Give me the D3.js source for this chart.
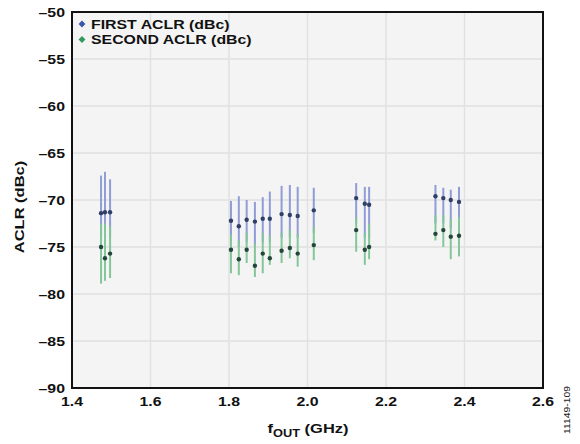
<!DOCTYPE html>
<html><head><meta charset="utf-8">
<script src="https://cdn.jsdelivr.net/npm/d3@7"></script>
<style>html,body{margin:0;padding:0;background:#fff;}svg{display:block;}</style>
</head><body>
<svg id="c" width="580" height="444"></svg>
<script>
// frequencies (GHz)
const freqs = [1.474,1.484,1.497, 1.805,1.825,1.845,1.866,1.886,1.904,1.934,1.955,1.975,2.016, 2.124,2.146,2.157, 2.326,2.346,2.365,2.386];
// first ACLR: mean, upper, lower
const firstMean = [-71.4,-71.3,-71.3, -72.2,-72.8,-72.1,-72.3,-72.0,-72.0,-71.5,-71.6,-71.7,-71.1, -69.8,-70.4,-70.5, -69.6,-69.8,-70.0,-70.2];
const firstHigh = [-67.4,-67.0,-67.8, -70.1,-69.6,-70.0,-70.2,-69.7,-69.1,-68.5,-68.4,-68.6,-68.7, -68.2,-68.6,-68.6, -68.4,-68.7,-68.9,-68.6];
const firstLow  = [-74.0,-74.0,-74.0, -74.5,-75.0,-74.5,-75.0,-74.5,-74.5,-74.0,-74.0,-74.0,-73.5, -72.5,-74.0,-74.0, -72.5,-72.5,-73.0,-73.0];
// second ACLR: mean, upper, lower
const secondMean = [-75.0,-76.2,-75.7, -75.3,-76.3,-75.3,-77.0,-75.7,-76.2,-75.4,-75.1,-75.7,-74.8, -73.2,-75.3,-75.0, -73.6,-73.2,-73.9,-73.8];
const secondHigh = [-72.5,-72.5,-72.8, -73.7,-74.3,-73.5,-74.6,-73.5,-73.8,-73.5,-73.2,-73.6,-72.8, -71.9,-73.5,-72.5, -71.6,-71.6,-72.0,-71.8];
const secondLow  = [-78.9,-78.6,-78.3, -77.8,-78.0,-76.7,-78.2,-77.8,-76.9,-76.7,-76.2,-77.1,-76.4, -75.5,-76.9,-76.3, -74.3,-75.0,-76.3,-76.0];
const yTicks = [-50,-55,-60,-65,-70,-75,-80,-85,-90];
const xTicks = [1.4,1.6,1.8,2.0,2.2,2.4,2.6];
const legendLabels = ["FIRST ACLR (dBc)","SECOND ACLR (dBc)"];

const svg = d3.select("#c");
const L=72, R=543, T=12, B=388;
const SX = 1.22; // horizontal stretch of the reference's lettering
const x = d3.scaleLinear().domain([1.4,2.6]).range([L,R]);
const y = d3.scaleLinear().domain([-90,-50]).range([B,T]);
const fmtMinus = s => s.replace("-","\u2013");
const font = "'Liberation Sans', Arial, sans-serif";

svg.append("rect").attr("x",L).attr("y",T).attr("width",R-L).attr("height",B-T).attr("fill","#f4f4f4");

// grid
svg.append("g").selectAll("line").data(yTicks).join("line")
  .attr("x1",L).attr("x2",R).attr("y1",d=>y(d)).attr("y2",d=>y(d))
  .attr("stroke","#e1e1e1").attr("stroke-width",1.5);
svg.append("g").selectAll("line").data(xTicks).join("line")
  .attr("y1",T).attr("y2",B).attr("x1",d=>x(d)).attr("x2",d=>x(d))
  .attr("stroke","#e1e1e1").attr("stroke-width",1.5);

const idx = d3.range(freqs.length);
svg.append("g").selectAll("line").data(idx).join("line")
  .attr("x1",i=>x(freqs[i])).attr("x2",i=>x(freqs[i]))
  .attr("y1",i=>y(firstHigh[i])).attr("y2",i=>y(firstLow[i]))
  .attr("stroke","#909cd6").attr("stroke-width",2);
svg.append("g").selectAll("line").data(idx).join("line")
  .attr("x1",i=>x(freqs[i])).attr("x2",i=>x(freqs[i]))
  .attr("y1",i=>y(secondHigh[i])).attr("y2",i=>y(secondLow[i]))
  .attr("stroke","#84c69a").attr("stroke-width",2);
svg.append("g").selectAll("circle").data(idx).join("circle")
  .attr("cx",i=>x(freqs[i])).attr("cy",i=>y(firstMean[i])).attr("r",2.2)
  .attr("fill","#2f3f66");
svg.append("g").selectAll("circle").data(idx).join("circle")
  .attr("cx",i=>x(freqs[i])).attr("cy",i=>y(secondMean[i])).attr("r",2.2)
  .attr("fill","#24473a");

// frame
svg.append("rect").attr("x",L).attr("y",T).attr("width",R-L).attr("height",B-T)
  .attr("fill","none").attr("stroke","#111").attr("stroke-width",2);

function label(px,py,rot,anchor,size,weight,txt){
  const g = svg.append("g").attr("transform",`translate(${px},${py}) rotate(${rot}) scale(${SX},1)`);
  return g.append("text").attr("text-anchor",anchor).attr("font-family",font)
    .attr("font-weight",weight).attr("font-size",size).attr("fill","#111").text(txt);
}
yTicks.forEach(d=>label(L-7,y(d),0,"end",13,"bold",fmtMinus(String(d))).attr("dy","0.36em"));
xTicks.forEach(d=>label(x(d),B+18,0,"middle",13,"bold",d.toFixed(1)));

label(24,207,-90,"middle",13.5,"bold","ACLR (dBc)");
const xt = label(308,433,0,"middle",13.5,"bold","");
xt.append("tspan").text("f");
xt.append("tspan").attr("dy",4).attr("font-size",10.5).text("OUT");
xt.append("tspan").attr("dy",-4).text(" (GHz)");

label(570,410,-90,"middle",8.5,"normal","11149-109").attr("fill","#222");

// legend
const legColors = ["#3a58a8","#2f9a5c"];
legendLabels.forEach((t,i)=>{
  const cy = 24 + i*15.5;
  svg.append("path").attr("d",d3.symbol(d3.symbolDiamond2,30)())
    .attr("transform",`translate(82,${cy})`).attr("fill",legColors[i]);
  label(91,cy,0,"start",13,"bold",t).attr("dy","0.36em");
});
</script>
</body></html>
